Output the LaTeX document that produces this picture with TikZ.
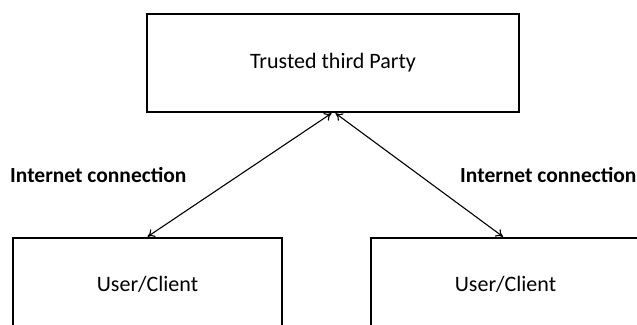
\documentclass[tikz,border=0pt]{standalone}
\usepackage{fontspec}
\setmainfont{Carlito}
\usetikzlibrary{arrows.meta}
\begin{document}
\begin{tikzpicture}[x=1pt,y=-1pt,
  box/.style={draw=black,line width=2.6pt,rectangle,inner sep=0pt,
    font=\fontsize{22}{26}\selectfont},
  linklabel/.style={font=\bfseries\fontsize{21.5}{26}\selectfont,inner sep=0pt},
  link/.style={line width=1.1pt,{To[length=7pt,width=9pt]}-{To[length=7pt,width=9pt]}}]
  \useasboundingbox (0,0) rectangle (637,324);
  \clip (0,0) rectangle (637,324);
  % server and the two clients
  \node[box,minimum width=372pt,minimum height=98pt] (ttp) at (333,63) {Trusted third Party};
  \node[box,minimum width=269pt,minimum height=92pt] (ucl) at (147.5,284) {User/Client};
  \node[box,minimum width=269pt,minimum height=92pt] (ucr) at (505.5,284) {User/Client};
  % labels of the two links
  \node[linklabel,anchor=west] (lbl) at (10,175) {Internet connection};
  \node[linklabel,anchor=west] (lbr) at (460,175) {Internet connection};
  % links
  \draw[link] ([xshift=-1.5pt]ttp.south) -- (ucl.north);
  \draw[link] ([xshift=2.5pt]ttp.south) -- ([xshift=-2.5pt]ucr.north);
\end{tikzpicture}
\end{document}
